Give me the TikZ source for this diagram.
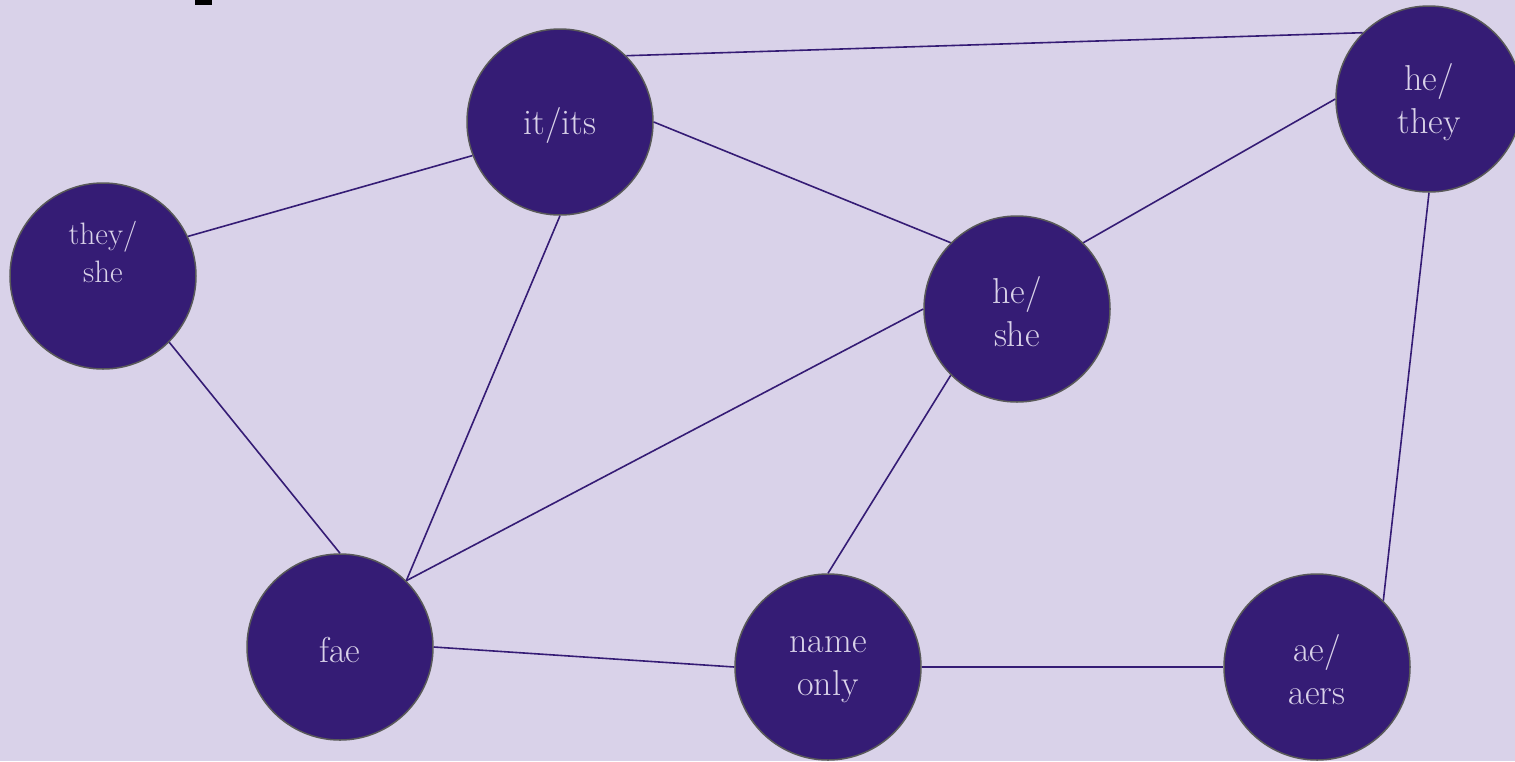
\documentclass[tikz,border=0pt]{standalone}
\usepackage{tikz}
\tikzset{>=latex}
\definecolor{bglav}{HTML}{D9D2E9}
\definecolor{deeppurple}{HTML}{351C75}
\definecolor{rimgray}{HTML}{595959}
\tikzset{
  pron/.style={circle, fill=deeppurple, draw=rimgray, line width=1.5pt,
    minimum size=186pt, inner sep=0pt},
  ptext/.style={align=center, text=bglav, inner sep=0pt, yshift=-3pt,
    font=\fontsize{36}{43}\selectfont},
  link/.style={draw=deeppurple, line width=1.6pt}
}
\begin{document}
\begin{tikzpicture}[x=1pt,y=-1pt]
  \fill[bglav] (0,0) rectangle (1515,761); % 背景
  \useasboundingbox (0,0) rectangle (1515,761);
  \fill[black] (195,0) rectangle (212,4.5);
  % 各个节点
  \node[pron, label={[ptext, yshift=27pt, font=\fontsize{31}{38}\selectfont]center:they/\\she}] (theyshe) at (103,276) {};
  \node[pron, label={[ptext]center:it/its}]      (itits)    at (560,122)  {};
  \node[pron, label={[ptext]center:he/\\she}]    (heshe)    at (1017,309) {};
  \node[pron, label={[ptext]center:he/\\they}]   (hethey)   at (1429,99)  {};
  \node[pron, label={[ptext]center:fae}]         (fae)      at (340,647)  {};
  \node[pron, label={[ptext]center:name\\only}]  (nameonly) at (828,667)  {};
  \node[pron, label={[ptext]center:ae/\\aers}]   (aeaers)   at (1317,667) {};
  % 连线
  \draw[link] (theyshe.25) -- (itits.201);
  \draw[link] (theyshe.south east) -- (fae.north);
  \draw[link] (itits.south) -- (fae.north east);
  \draw[link] (itits.north east) -- (hethey.north west);
  \draw[link] (itits.east) -- (heshe.north west);
  \draw[link] (heshe.west) -- (fae.north east);
  \draw[link] (heshe.north east) -- (hethey.west);
  \draw[link] (heshe.south west) -- (nameonly.north);
  \draw[link] (hethey.south) -- (aeaers.north east);
  \draw[link] (fae.east) -- (nameonly.west);
  \draw[link] (nameonly.east) -- (aeaers.west);
\end{tikzpicture}
\end{document}
